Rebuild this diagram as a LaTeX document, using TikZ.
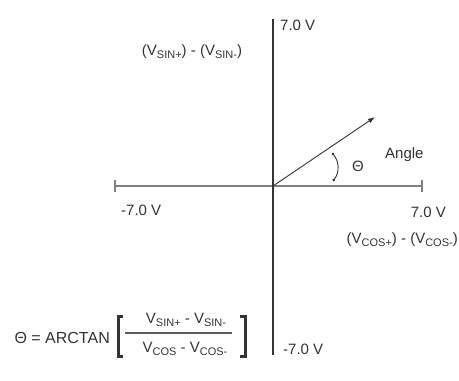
\documentclass[tikz,border=0pt]{standalone}
\usepackage{fontspec}
\setmainfont{Liberation Sans}
\usetikzlibrary{arrows.meta}
\newcommand{\vsub}[1]{\raisebox{-0.4ex}{\fontsize{11}{12}\selectfont #1}}
\definecolor{ink}{HTML}{333333}
\definecolor{axisgray}{HTML}{808080}
\tikzset{
  lbl/.style={inner sep=0pt, text=ink, font=\fontsize{15}{17}\selectfont},
  vaxis/.style={draw=ink, line width=1.4pt},
  haxis/.style={draw=axisgray, line width=1.2pt},
  vec/.style={draw=ink, line width=0.9pt, -{Latex[length=7pt,width=5pt]}},
  anglearc/.style={draw=ink, line width=0.9pt, {Circle[length=2.5pt]}-{Circle[length=2.5pt]}},
  fracbar/.style={draw=ink!80, line width=1.1pt},
  bracket/.style={draw=ink, line width=3pt},
}
\begin{document}
\begin{tikzpicture}[x=1pt,y=-1pt]
\useasboundingbox (0,0) rectangle (459,381);
\coordinate (O) at (273,186);
\coordinate (vtop) at (273,19);
\coordinate (vbot) at (273,355);
\coordinate (hleft) at (115,186);
\coordinate (hright) at (422,186);
\coordinate (tip) at (375,117);
\coordinate (arcA) at (333,181);
\coordinate (arcB) at (332,153);
\draw[haxis] (hleft) -- (hright);
\draw[haxis] ([yshift=-6pt]hleft) -- ([yshift=6pt]hleft);
\draw[haxis] ([yshift=-6pt]hright) -- ([yshift=6pt]hright);
\draw[vaxis] (vtop) -- (vbot);
\draw[vec] (O) -- (tip);
\draw[anglearc] (arcA) to[bend right=40] (arcB);
\node[lbl, anchor=west] (ytop) at (280,25) {7.0 V};
\node[lbl] (ysig) at (192,52) {(V\vsub{SIN+}) - (V\vsub{SIN-})};
\node[lbl] (theta) at (358,166) {Θ};
\node[lbl, anchor=west] (angle) at (385,155) {Angle};
\node[lbl, anchor=west] (xleft) at (121,210) {-7.0 V};
\node[lbl, anchor=east] (xright) at (446,212) {7.0 V};
\node[lbl, anchor=east] (xsig) at (458,240) {(V\vsub{COS+}) - (V\vsub{COS-})};
\node[lbl, anchor=west] (ybot) at (283,349) {-7.0 V};
% formula
\node[lbl, anchor=east, font=\fontsize{16}{18}\selectfont] (eq) at (110,338) {Θ = ARCTAN};
\node[lbl, anchor=base] (num) at (186,323) {V\vsub{SIN+} - V\vsub{SIN-}};
\node[lbl, anchor=base] (den) at (185,352) {V\vsub{COS} - V\vsub{COS-}};
\coordinate (barL) at (125,333);
\coordinate (barR) at (232,333);
\draw[fracbar] (barL) -- (barR);
\draw[bracket] (123,316) -- (118,316) -- (118,356) -- (123,356);
\draw[bracket] (240,316) -- (245,316) -- (245,356) -- (240,356);
\end{tikzpicture}
\end{document}
